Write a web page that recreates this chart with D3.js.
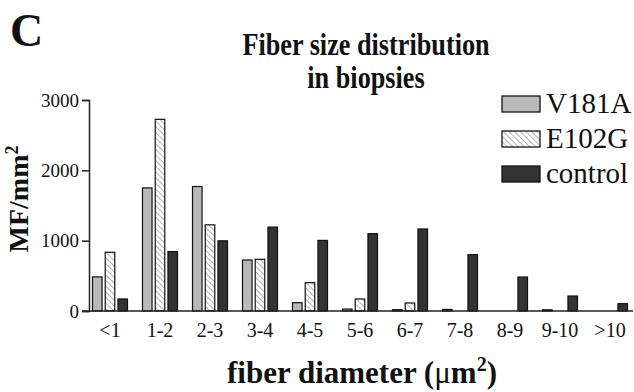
<!DOCTYPE html>
<html>
<head>
<meta charset="utf-8">
<script src="https://cdn.jsdelivr.net/npm/d3@7"></script>
<style>
  body { margin: 0; background: #fff; }
  text { font-family: "Liberation Serif", "Times New Roman", serif; fill: #111; }
</style>
</head>
<body>
<div id="chart"></div>
<script>
// values (MF/mm2)
const categories = ["<1", "1-2", "2-3", "3-4", "4-5", "5-6", "6-7", "7-8", "8-9", "9-10", ">10"];
const series = ["V181A", "E102G", "control"];
const v181a = [485, 1750, 1770, 725, 118, 28, 19, 22, 0, 17, 0];
const e102g = [835, 2725, 1225, 735, 403, 171, 114, 0, 0, 0, 0];
const control = [171, 845, 998, 1193, 1004, 1100, 1166, 801, 483, 213, 104];
const yTicks = [0, 1000, 2000, 3000];

const width = 634, height = 392;
const values = { "V181A": v181a, "E102G": e102g, "control": control };
const fills = { "V181A": "#b9b9b9", "E102G": "url(#hatch)", "control": "#333333" };

const svg = d3.select("#chart").append("svg")
    .attr("width", width)
    .attr("height", height);

// diagonal hatch for E102G
const pat = svg.append("defs").append("pattern")
    .attr("id", "hatch")
    .attr("patternUnits", "userSpaceOnUse")
    .attr("width", 4).attr("height", 4)
    .attr("patternTransform", "rotate(-45)");
pat.append("rect").attr("width", 4).attr("height", 4).attr("fill", "#fff");
pat.append("line").attr("x1", 0).attr("y1", 0).attr("x2", 0).attr("y2", 4)
    .attr("stroke", "#8a8a8a").attr("stroke-width", 1.3);

const x = d3.scaleBand().domain(categories).range([85, 635]);
const xSub = d3.scaleBand().domain(series).range([-17.5, 17.5]).paddingInner(0.25);
const y = d3.scaleLinear().domain([0, 3000]).range([311, 100]);

// bars
const rows = [];
categories.forEach(function (c, i) {
    series.forEach(function (s) {
        rows.push({ cat: c, key: s, value: values[s][i] });
    });
});

svg.append("g").selectAll("rect")
    .data(rows.filter(function (d) { return d.value > 0; }))
    .enter().append("rect")
    .attr("x", function (d) { return x(d.cat) + x.bandwidth() / 2 + xSub(d.key); })
    .attr("y", function (d) { return y(d.value); })
    .attr("width", xSub.bandwidth())
    .attr("height", function (d) { return y(0) - y(d.value); })
    .attr("fill", function (d) { return fills[d.key]; })
    .attr("stroke", "#111")
    .attr("stroke-width", 1.2);

// y axis
const yAxis = svg.append("g")
    .attr("transform", "translate(89,0)")
    .call(d3.axisLeft(y).tickValues(yTicks).tickSize(7).tickPadding(3).tickFormat(d3.format("d")));
yAxis.select(".domain").attr("stroke", "#222").attr("stroke-width", 1.5);
yAxis.selectAll(".tick line").attr("stroke", "#222").attr("stroke-width", 1.5);
yAxis.selectAll("text").style("font-size", "19px").attr("fill", "#111")
    .style("font-family", "'Liberation Serif', serif");

// x axis baseline and labels
svg.append("line")
    .attr("x1", 82).attr("x2", 633)
    .attr("y1", y(0)).attr("y2", y(0))
    .attr("stroke", "#222").attr("stroke-width", 1.5);

svg.append("g").selectAll("text")
    .data(categories)
    .enter().append("text")
    .attr("x", function (d) { return x(d) + x.bandwidth() / 2; })
    .attr("y", 337)
    .attr("text-anchor", "middle")
    .style("font-size", "20px")
    .text(function (d) { return d; });

// panel letter
svg.append("text")
    .attr("x", 10).attr("y", 46)
    .style("font-size", "46px").style("font-weight", "bold")
    .text("C");

// title (condensed bold serif)
const title = svg.append("g")
    .attr("transform", "translate(366,0) scale(0.82,1)")
    .append("text")
    .attr("text-anchor", "middle")
    .style("font-size", "32px").style("font-weight", "bold");
title.append("tspan").attr("x", 0).attr("y", 55).text("Fiber size distribution");
title.append("tspan").attr("x", 0).attr("y", 88).text("in biopsies");

// y title
const yt = svg.append("text")
    .attr("transform", "translate(28,199) rotate(-90)")
    .attr("text-anchor", "middle")
    .style("font-size", "28px").style("font-weight", "bold");
yt.append("tspan").text("MF/mm");
yt.append("tspan").attr("dy", -10).style("font-size", "18px").text("2");

// x title
const xt = svg.append("text")
    .attr("x", 362).attr("y", 383)
    .attr("text-anchor", "middle")
    .style("font-size", "31px").style("font-weight", "bold");
xt.append("tspan").text("fiber diameter (");
xt.append("tspan").style("font-weight", "normal").text("\u03bc");
xt.append("tspan").text("m");
xt.append("tspan").attr("dy", -12).style("font-size", "20px").text("2");
xt.append("tspan").attr("dy", 12).text(")");

// legend
const legend = svg.append("g").selectAll("g")
    .data(series)
    .enter().append("g")
    .attr("transform", function (d, i) { return "translate(502," + (96 + i * 35) + ")"; });
legend.append("rect")
    .attr("width", 38).attr("height", 16)
    .attr("fill", function (d) { return fills[d]; })
    .attr("stroke", "#111").attr("stroke-width", 1.3);
legend.append("text")
    .attr("x", 44).attr("y", 17)
    .style("font-size", "29px")
    .text(function (d) { return d; });
</script>
</body>
</html>
